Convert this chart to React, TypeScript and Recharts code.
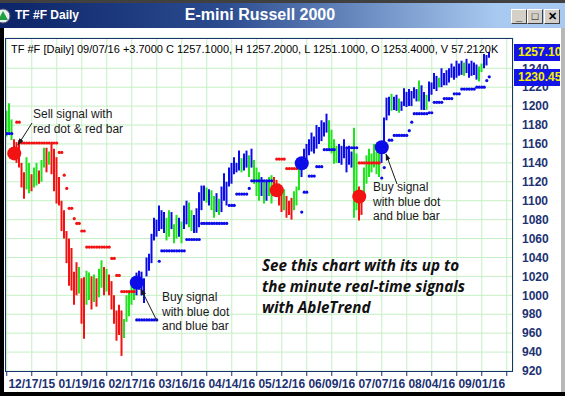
import { ComposedChart, Bar, Scatter, XAxis, YAxis, CartesianGrid, Cell } from 'recharts'

// daily bars, one per trading day
const highs = [
  1195, 1203, 1186, 1165, 1162, 1164, 1140, 1130, 1146, 1140,
  1128, 1135, 1140, 1132, 1143, 1156, 1156, 1152, 1160, 1155,
  1146, 1125, 1100, 1090, 1068, 1060, 1050, 1025, 1035, 1030,
  1018, 1019, 1026, 1024, 1020, 1022, 1018, 1028, 1037, 1030,
  1028, 1022, 1015, 1000, 984, 990, 984, 975, 1000, 1005,
  1012, 1018, 1024, 1026, 1025, 1018, 1040, 1044, 1065, 1082,
  1080, 1095, 1090, 1088, 1082, 1090, 1088, 1075, 1085, 1082,
  1078, 1095, 1100, 1098, 1090, 1085, 1092, 1109, 1116, 1116,
  1114, 1112, 1111, 1105, 1108, 1102, 1115, 1129, 1120, 1135,
  1140, 1146, 1140, 1153, 1145, 1150, 1153, 1148, 1155, 1143,
  1135, 1130, 1125, 1121, 1120, 1125, 1127, 1125, 1122, 1118,
  1110, 1112, 1105, 1100, 1103, 1110, 1115, 1139, 1145, 1155,
  1160, 1165, 1172, 1168, 1180, 1178, 1185, 1183, 1192, 1185,
  1175, 1165, 1158, 1160, 1158, 1165, 1155, 1158, 1152, 1177,
  1150, 1115, 1110, 1135, 1148, 1155, 1150, 1160, 1152, 1158,
  1162, 1188, 1209, 1210, 1213, 1210, 1212, 1208, 1205, 1219,
  1215, 1218, 1216, 1220, 1218, 1227, 1222, 1215, 1212, 1226,
  1225, 1235, 1232, 1230, 1240, 1235, 1238, 1240, 1245, 1242,
  1248, 1245, 1248, 1246, 1250, 1245, 1248, 1246, 1244, 1242,
  1245, 1255, 1254, 1257.2
]

const lows = [
  1168, 1172, 1164, 1147, 1140, 1135, 1114, 1102, 1112, 1108,
  1110, 1114, 1116, 1118, 1120, 1135, 1130, 1138, 1128, 1110,
  1097, 1095, 1068, 1060, 1034, 1010, 1005, 990, 1000, 1002,
  970, 954, 990, 995, 985, 993, 988, 998, 1008, 1000,
  1004, 1000, 985, 970, 952, 958, 936, 955, 972, 978,
  990, 995, 1000, 1006, 1000, 992, 1020, 1026, 1034, 1058,
  1062, 1068, 1070, 1066, 1058, 1062, 1070, 1055, 1060, 1062,
  1055, 1070, 1075, 1072, 1068, 1066, 1066, 1072, 1090, 1100,
  1098, 1095, 1090, 1082, 1088, 1085, 1088, 1100, 1095, 1115,
  1118, 1128, 1130, 1132, 1130, 1132, 1135, 1125, 1135, 1118,
  1105, 1100, 1105, 1097, 1100, 1105, 1097, 1110, 1104, 1095,
  1088, 1090, 1082, 1085, 1080, 1090, 1095, 1111, 1125, 1135,
  1140, 1148, 1152, 1150, 1155, 1160, 1163, 1168, 1172, 1155,
  1150, 1139, 1140, 1140, 1138, 1145, 1130, 1138, 1135, 1082,
  1090, 1079, 1085, 1100, 1118, 1125, 1130, 1135, 1128, 1125,
  1140, 1150, 1185, 1190, 1195, 1196, 1195, 1193, 1195, 1200,
  1199, 1200, 1200, 1208, 1205, 1205, 1196, 1196, 1196, 1205,
  1212, 1218, 1216, 1220, 1220, 1222, 1222, 1225, 1230, 1228,
  1230, 1232, 1233, 1232, 1235, 1230, 1232, 1233, 1228, 1226,
  1236, 1240, 1243, 1251.1
]

// R = sell trend, G = neutral, B = buy trend
const barColors =
  'GGGRRRRRGG' + 'RGGRGGRGRR' + 'RRRRRRRRRG' + 'RRGGRGRGGR' + 'GRRRRRRGGG' +
  'GGBBBBBBBB' + 'BBBBGGBGGB' + 'GBBGGBBBBB' + 'GBGGBGBBBB' + 'BBBBGBBGBG' +
  'GGBGBGGRRR' + 'RGRRRGGGBB' + 'BBBBBBBBBG' + 'GGGBBBBBBG' + 'GRRGGGGGGG' +
  'BBBBGBBGBB' + 'BBBBBGBBGB' + 'BBBGBBBBBB' + 'BBBGBBBBBG' + 'GBBB'

// stop levels: [first bar, last bar, price]
const redStopRuns = [
  [4, 5, 1183], [6, 20, 1161], [21, 22, 1151], [23, 23, 1127], [24, 24, 1113],
  [25, 26, 1092], [27, 27, 1081], [28, 29, 1076], [30, 31, 1068], [32, 41, 1051],
  [42, 43, 1039], [44, 45, 1021], [46, 51, 1004],
  [108, 111, 1144], [112, 116, 1134],
  [141, 149, 1140]
]
const blueStopRuns = [
  [0, 2, 1171],
  [52, 60, 974], [61, 61, 1036], [62, 71, 1047], [72, 77, 1059], [78, 88, 1076],
  [89, 91, 1095], [92, 96, 1107], [97, 97, 1113], [98, 106, 1121],
  [118, 118, 1088], [119, 120, 1109], [121, 123, 1126], [124, 126, 1136],
  [127, 131, 1154], [136, 140, 1156],
  [150, 150, 1124], [151, 151, 1135], [153, 154, 1164], [155, 160, 1169],
  [161, 161, 1174], [162, 162, 1183], [163, 168, 1192], [169, 170, 1193],
  [171, 174, 1204], [175, 178, 1208], [179, 181, 1213], [182, 187, 1218],
  [188, 191, 1220], [192, 192, 1227], [193, 193, 1231]
]

const signalBars = [3, 52, 108, 118, 141, 150]
const signalPrices = [1150, 1013.6, 1111, 1139.6, 1104.5, 1156.5]
const signalTypes = ['sell', 'buy', 'sell', 'buy', 'sell', 'buy']

const xTicks = [0, 10, 20, 30, 40, 50, 60, 70, 80, 90, 100, 110, 120, 130, 140, 150, 160, 170, 180, 190, 200]
const labelBars = [10, 30, 50, 70, 90, 110, 130, 150, 170, 190]
const dateLabels = ['12/17/15', '01/19/16', '02/17/16', '03/16/16', '04/14/16', '05/12/16', '06/09/16', '07/07/16', '08/04/16', '09/01/16']
const priceTicks = [920, 940, 960, 980, 1000, 1020, 1040, 1060, 1080, 1100, 1120, 1140, 1160, 1180, 1200, 1220, 1240]

const RED = '#f21212'
const GREEN = '#1ee41e'
const BLUE = '#0c0ce8'
const NAVY = '#1c3272'
const colorOf: Record<string, string> = { R: RED, G: GREEN, B: BLUE }

const bars = highs.map((h, i) => ({ i, range: [lows[i], h], c: colorOf[barColors[i]] }))

const expand = (runs: number[][]) =>
  runs.flatMap(([a, b, v]) => {
    const out: { i: number; v: number }[] = []
    for (let i = a; i <= b; i++) out.push({ i, v })
    return out
  })
const redStops = expand(redStopRuns)
const blueStops = expand(blueStopRuns)
const signals = signalBars.map((i, k) => ({ i, v: signalPrices[k], t: signalTypes[k] }))

const StopDot = (props: any) => (
  <circle cx={props.cx} cy={props.cy} r={1.6} fill={props.fill} />
)
const SignalDot = (props: any) => (
  <circle cx={props.cx} cy={props.cy} r={7} fill={props.fill} />
)

const fontArial = 'Arial, "Liberation Sans", sans-serif'

const btn: React.CSSProperties = {
  position: 'absolute',
  top: 9,
  width: 14,
  height: 13,
  background: '#d4d0c8',
  borderTop: '1px solid #fff',
  borderLeft: '1px solid #fff',
  borderRight: '1px solid #404040',
  borderBottom: '1px solid #404040',
  fontFamily: fontArial,
  fontWeight: 'bold',
  fontSize: 11,
  lineHeight: '13px',
  textAlign: 'center',
  color: '#000'
}

const note: React.CSSProperties = {
  position: 'absolute',
  fontFamily: fontArial,
  fontSize: 12,
  lineHeight: '14.5px',
  color: '#1a1a1a',
  whiteSpace: 'pre'
}

export default function App() {
  const fmtX = (v: number) => {
    const k = labelBars.indexOf(v)
    return k >= 0 ? dateLabels[k] : ''
  }

  return (
    <div style={{ position: 'absolute', left: 0, top: 0, width: 565, height: 396, background: '#fff', overflow: 'hidden' }}>
      {/* title bar */}
      <div style={{ position: 'absolute', left: 0, top: 0, width: 565, height: 3, background: '#404040' }} />
      <div
        style={{
          position: 'absolute', left: 0, top: 3, width: 565, height: 25,
          background: 'linear-gradient(to right, #0c2468 0%, #2c4c90 40%, #a8caf0 88%, #a8caf0 100%)'
        }}
      />
      <svg style={{ position: 'absolute', left: 0, top: 8 }} width={12} height={16}>
        <circle cx={3} cy={8} r={7} fill="#e8f0f0" stroke="#557" strokeWidth={1} />
        <polygon points="3,3 8,12 -2,12" fill="#20a040" />
      </svg>
      <div style={{ position: 'absolute', left: 15, top: 8, fontFamily: fontArial, fontWeight: 'bold', fontSize: 12, color: '#fff' }}>
        TF #F Daily
      </div>
      <div style={{ position: 'absolute', left: 160, width: 200, top: 6, textAlign: 'center', fontFamily: fontArial, fontWeight: 'bold', fontSize: 16, color: '#fff' }}>
        E-mini Russell 2000
      </div>
      <div style={{ ...btn, left: 511 }}>_</div>
      <div style={{ ...btn, left: 527 }}>□</div>
      <div style={{ ...btn, left: 544 }}>✕</div>

      {/* frame edges */}
      <div style={{ position: 'absolute', left: 0, top: 28, width: 4, height: 368, background: '#000' }} />
      <div style={{ position: 'absolute', left: 0, top: 392, width: 565, height: 4, background: '#000' }} />
      <div style={{ position: 'absolute', left: 561, top: 28, width: 4, height: 364, background: '#b8b8b8' }} />

      <div style={{ position: 'absolute', left: 0, top: 0 }}>
        <ComposedChart
          width={565}
          height={396}
          data={bars}
          margin={{ top: 38, right: 0, bottom: 0, left: 6 }}
        >
          <CartesianGrid stroke="#c4f0c4" strokeWidth={1} />
          <XAxis
            dataKey="i"
            type="number"
            domain={[-0.3, 202.5]}
            allowDataOverflow
            ticks={xTicks}
            interval={0}
            tickFormatter={fmtX}
            height={25}
            axisLine={false}
            tickSize={5}
            tickMargin={3}
            tickLine={{ stroke: NAVY }}
            tick={{ fill: NAVY, fontSize: 12, fontWeight: 'bold', fontFamily: fontArial }}
          />
          <YAxis
            orientation="right"
            type="number"
            domain={[920, 1272]}
            allowDataOverflow
            ticks={priceTicks}
            interval={0}
            width={52}
            axisLine={false}
            tickLine={false}
            tickSize={0}
            tickMargin={9}
            tick={{ fill: NAVY, fontSize: 12, fontWeight: 'bold', fontFamily: fontArial, textAnchor: 'start' }}
          />
          <Bar dataKey="range" barSize={2} isAnimationActive={false}>
            {bars.map((b, k) => (
              <Cell key={`bar-${k}`} fill={b.c} />
            ))}
          </Bar>
          <Scatter data={redStops} dataKey="v" fill={RED} shape={StopDot} isAnimationActive={false} />
          <Scatter data={blueStops} dataKey="v" fill={BLUE} shape={StopDot} isAnimationActive={false} />
          <Scatter data={signals} dataKey="v" shape={SignalDot} isAnimationActive={false}>
            {signals.map((s, k) => (
              <Cell key={`sig-${k}`} fill={s.t === 'sell' ? RED : BLUE} />
            ))}
          </Scatter>
        </ComposedChart>
      </div>

      {/* plot frame */}
      <div style={{ position: 'absolute', left: 5, top: 38, width: 508, height: 334, border: `1px solid ${NAVY}`, boxSizing: 'border-box' }} />

      {/* header line */}
      <div style={{ position: 'absolute', left: 11, top: 43, fontFamily: fontArial, fontSize: 11, color: '#000', whiteSpace: 'pre' }}>
        TF #F [Daily] 09/07/16 +3.7000 C 1257.1000, H 1257.2000, L 1251.1000, O 1253.4000, V 57.2120K
      </div>

      {/* last price boxes */}
      <div style={{ position: 'absolute', left: 514, top: 44, width: 46, height: 17, background: '#1414e6', overflow: 'hidden' }}>
        <div style={{ paddingLeft: 4, fontFamily: fontArial, fontWeight: 'bold', fontSize: 12, lineHeight: '17px', color: '#f4f000', whiteSpace: 'pre' }}>1257.10</div>
      </div>
      <div style={{ position: 'absolute', left: 514, top: 69, width: 46, height: 17, background: '#1414e6', overflow: 'hidden' }}>
        <div style={{ paddingLeft: 4, fontFamily: fontArial, fontWeight: 'bold', fontSize: 12, lineHeight: '17px', color: '#f4f000', whiteSpace: 'pre' }}>1230.45</div>
      </div>

      {/* notes */}
      <div style={{ ...note, left: 33, top: 107 }}>{'Sell signal with\nred dot & red bar'}</div>
      <div style={{ ...note, left: 162, top: 290 }}>{'Buy signal\nwith blue dot\nand blue bar'}</div>
      <div style={{ ...note, left: 373, top: 180 }}>{'Buy signal\nwith blue dot\nand blue bar'}</div>
      <div
        style={{
          position: 'absolute', left: 262, top: 255, fontFamily: '"Open Sans", "Noto Sans", sans-serif',
          fontWeight: 'bold', fontStyle: 'italic', fontSize: 15.2, lineHeight: '21px', color: '#111', whiteSpace: 'pre'
        }}
      >
        {'See this chart with its up to\nthe minute real-time signals\nwith AbleTrend'}
      </div>

      <svg style={{ position: 'absolute', left: 0, top: 0 }} width={565} height={396}>
        <defs>
          <marker id="ah" viewBox="0 0 10 10" refX={9} refY={5} markerWidth={7} markerHeight={7} orient="auto">
            <path d="M0,1.5 L10,5 L0,8.5 z" fill="#1a1a1a" />
          </marker>
        </defs>
        <line x1={32} y1={123} x2={18} y2={145} stroke="#1a1a1a" strokeWidth={1} markerEnd="url(#ah)" />
        <line x1={157} y1={321} x2={141} y2={289} stroke="#1a1a1a" strokeWidth={1} markerEnd="url(#ah)" />
        <line x1={397} y1={184} x2={386} y2={154} stroke="#1a1a1a" strokeWidth={1} markerEnd="url(#ah)" />
      </svg>
    </div>
  )
}
